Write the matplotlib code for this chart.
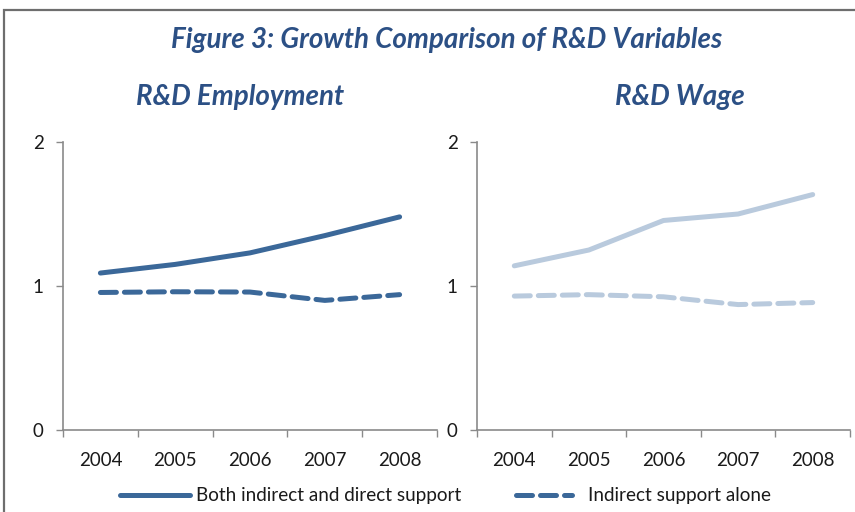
import matplotlib
matplotlib.use("Agg")
import matplotlib.pyplot as plt
from matplotlib.patches import Rectangle
from matplotlib.lines import Line2D

plt.rcParams['font.family'] = ['Lato', 'DejaVu Sans']

years = ["2004", "2005", "2006", "2007", "2008"]
y_ticks = [0, 1, 2]

emp_both = [1.09, 1.15, 1.23, 1.35, 1.48]
emp_indirect = [0.955, 0.96, 0.958, 0.90, 0.94]
wage_both = [1.14, 1.25, 1.455, 1.50, 1.635]
wage_indirect = [0.93, 0.94, 0.925, 0.871, 0.885]

title = "Figure 3: Growth Comparison of R&D Variables"
panel_titles = ["R&D Employment", "R&D Wage"]
legend_labels = ["Both indirect and direct support", "Indirect support alone"]

dark = "#3b6899"
light = "#b9cadd"
title_color = "#2c5085"
axis_color = "#8a8a8a"
text_color = "#1a1a1a"

W, H = 855, 512
fig = plt.figure(figsize=(W / 100, H / 100), dpi=100)
fig.patch.set_facecolor("white")

# outer chart frame
fig.add_artist(Rectangle((4 / W, -0.05), 1.2, (H - 10) / H + 0.05,
                         transform=fig.transFigure, fill=False,
                         edgecolor="#6e6e6e", linewidth=1.6))

fig.text(447 / W, 1 - 40 / H, title, ha="center", va="center",
         fontsize=20, fontweight="bold", fontstyle="italic", color=title_color)

def panel(left_px, right_px, both, indirect, color, name, name_x):
    ax = fig.add_axes([left_px / W, (H - 430) / H,
                       (right_px - left_px) / W, 288 / H])
    x = list(range(len(years)))
    ax.plot(x, both, color=color, linewidth=3.6, solid_capstyle="round")
    ax.plot(x, indirect, color=color, linewidth=3.6, dashes=(3.2, 1.6),
            dash_capstyle="round")
    ax.set_xlim(-0.5, len(years) - 0.5)
    ax.set_ylim(0, 2)
    ax.set_yticks(y_ticks)
    ax.set_yticklabels([str(v) for v in y_ticks], fontsize=13.5, color=text_color)
    ax.set_xticks([i - 0.5 for i in range(len(years) + 1)])
    ax.set_xticklabels([])
    ax.set_xticks(x, minor=True)
    ax.set_xticklabels(years, minor=True, fontsize=13.5, color=text_color)
    ax.tick_params(axis="x", which="major", direction="out", length=5,
                   color=axis_color, width=1)
    ax.tick_params(axis="x", which="minor", length=0, pad=16)
    ax.tick_params(axis="y", direction="out", length=5, color=axis_color,
                   width=1, pad=9)
    for s in ("top", "right"):
        ax.spines[s].set_visible(False)
    for s in ("left", "bottom"):
        ax.spines[s].set_color(axis_color)
        ax.spines[s].set_linewidth(1.2)
    fig.text(name_x / W, 1 - 97 / H, name, ha="center", va="center",
             fontsize=20, fontweight="bold", fontstyle="italic",
             color=title_color)
    return ax

panel(63, 437, emp_both, emp_indirect, dark, panel_titles[0], 240)
panel(477, 850, wage_both, wage_indirect, light, panel_titles[1], 680)

# legend
ly = 1 - 495 / H
fig.add_artist(Line2D([120 / W, 190 / W], [ly, ly], transform=fig.transFigure,
                      color=dark, linewidth=3.6, solid_capstyle="round"))
fig.text(196 / W, ly, legend_labels[0], ha="left", va="center",
         fontsize=13.6, color=text_color)
fig.add_artist(Line2D([516 / W, 572 / W], [ly, ly], transform=fig.transFigure,
                      color=dark, linewidth=3.6, dashes=(3.2, 1.6),
                      dash_capstyle="round"))
fig.text(588 / W, ly, legend_labels[1], ha="left", va="center",
         fontsize=13.6, color=text_color)

fig.savefig("out.png", dpi=100)
